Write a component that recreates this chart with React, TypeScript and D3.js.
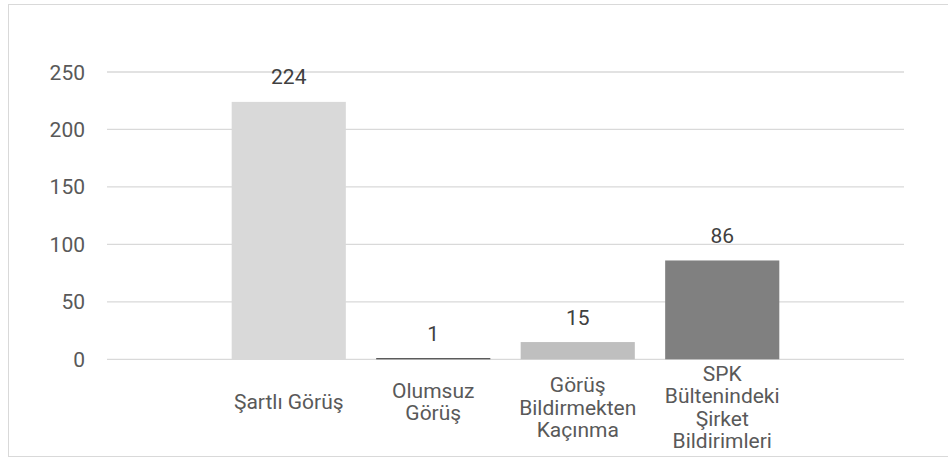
import React from "react";
import * as d3 from "d3";

const categories: string[][] = [
  ["Şartlı Görüş"],
  ["Olumsuz", "Görüş"],
  ["Görüş", "Bildirmekten", "Kaçınma"],
  ["SPK", "Bültenindeki", "Şirket", "Bildirimleri"],
];
const values: number[] = [224, 1, 15, 86];
const barColors: string[] = ["#d9d9d9", "#404040", "#bfbfbf", "#808080"];
const yTicks: number[] = [0, 50, 100, 150, 200, 250];

const W = 948;
const H = 457;
const FONT = "Roboto, 'Open Sans', sans-serif";
const FS = 21;

export default function App() {
  const keys = categories.map((c) => c.join(" "));
  const x = d3
    .scaleBand<string>()
    .domain(keys)
    .range([107, 904])
    .paddingInner(0.21)
    .paddingOuter(0.863);
  const y = d3.scaleLinear().domain([0, 250]).range([359.3, 72]);

  return (
    <svg
      width={W}
      height={H}
      style={{ position: "absolute", left: 0, top: 0, background: "#fff" }}
      fontFamily={FONT}
    >
      <rect x={8.5} y={4.5} width={945} height={452} fill="#fff" stroke="#d9d9d9" strokeWidth={1} />
      {yTicks.map((t) => (
        <g key={t}>
          <line x1={107} x2={904} y1={y(t)} y2={y(t)} stroke="#d9d9d9" strokeWidth={1.3} />
          <text
            x={85}
            y={y(t)}
            dy="0.36em"
            textAnchor="end"
            fontSize={FS}
            fill="#595959"
          >
            {t}
          </text>
        </g>
      ))}
      {values.map((v, i) => {
        const k = keys[i];
        const bx = x(k) as number;
        const bw = x.bandwidth();
        const top = y(v);
        return (
          <g key={k}>
            <rect x={bx} y={top} width={bw} height={y(0) - top} fill={barColors[i]} />
            <text
              x={bx + bw / 2}
              y={top - 17.5}
              textAnchor="middle"
              fontSize={FS}
              fill="#404040"
            >
              {v}
            </text>
          </g>
        );
      })}
      {categories.map((lines, i) => {
        const k = keys[i];
        const cx = (x(k) as number) + x.bandwidth() / 2;
        const lh = 22.1;
        const mid = lines.length <= 2 ? 408.7 : 414.5;
        const first = mid - ((lines.length - 1) * lh) / 2;
        return (
          <text key={k} textAnchor="middle" fontSize={FS} fill="#595959">
            {lines.map((ln, j) => (
              <tspan key={j} x={cx} y={first + j * lh}>
                {ln}
              </tspan>
            ))}
          </text>
        );
      })}
    </svg>
  );
}
